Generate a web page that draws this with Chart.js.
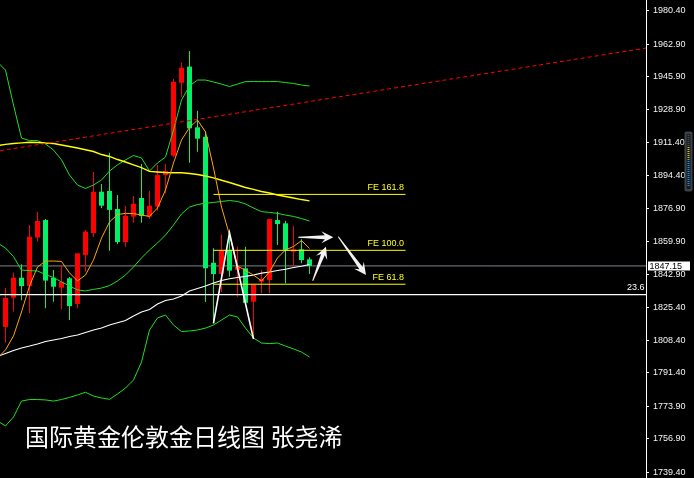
<!DOCTYPE html>
<html>
<head>
<meta charset="utf-8">
<script src="https://cdn.jsdelivr.net/npm/chart.js@4/dist/chart.umd.min.js"></script>
<style>
  html, body { margin: 0; padding: 0; background: #000; overflow: hidden; }
  canvas { display: block; }
</style>
</head>
<body>
<canvas id="c" width="694" height="478" style="width:694px;height:478px"></canvas>
<script>
// Price axis labels (right side)
const priceTicks = [1980.40, 1962.90, 1945.90, 1928.90, 1911.40, 1894.40, 1876.90,
  1859.90, 1842.90, 1825.40, 1808.40, 1791.40, 1773.90, 1756.90, 1739.40];

// Daily candles, bar 0 .. bar 38
const candleOpen  = [1815.3, 1830.6, 1841.0, 1836.6, 1862.0, 1871.1, 1841.0, 1835.8, 1840.7, 1827.3,
  1852.9, 1864.3, 1885.9, 1886.3, 1876.9, 1859.6, 1872.9, 1882.6, 1872.9, 1878.1,
  1894.6, 1904.7, 1942.8, 1951.2, 1919.5, 1914.6, 1848.8, 1842.9, 1855.5, 1845.0,
  1845.9, 1828.5, 1838.9, 1839.8, 1871.1, 1869.4, 1854.6, 1855.8, 1850.6];
const candleHigh  = [1835.6, 1843.7, 1848.0, 1868.5, 1875.4, 1871.6, 1845.0, 1847.6, 1841.4, 1853.9,
  1865.9, 1896.2, 1889.9, 1906.3, 1884.2, 1878.4, 1883.7, 1900.4, 1886.3, 1899.9,
  1900.4, 1944.7, 1953.3, 1959.4, 1928.2, 1917.6, 1856.4, 1863.6, 1864.4, 1857.2,
  1857.2, 1837.2, 1845.0, 1871.7, 1875.5, 1870.8, 1868.0, 1861.1, 1851.7];
const candleLow   = [1807.0, 1823.3, 1829.2, 1822.6, 1859.9, 1825.1, 1828.5, 1824.5, 1818.9, 1825.0,
  1844.1, 1862.3, 1877.2, 1855.1, 1858.6, 1857.2, 1869.7, 1869.7, 1871.7, 1876.0,
  1885.1, 1903.9, 1935.5, 1901.0, 1906.8, 1828.3, 1817.2, 1833.5, 1841.5, 1831.1,
  1827.8, 1809.0, 1832.9, 1832.9, 1858.1, 1838.1, 1847.1, 1848.5, 1842.9];
const candleClose = [1830.4, 1841.0, 1836.6, 1862.4, 1870.6, 1839.5, 1836.3, 1838.9, 1826.2, 1853.7,
  1865.0, 1885.8, 1878.6, 1876.4, 1859.6, 1873.4, 1879.6, 1873.2, 1878.6, 1894.6,
  1896.7, 1943.3, 1950.6, 1919.0, 1913.6, 1846.0, 1842.9, 1855.1, 1844.7, 1846.7,
  1827.9, 1837.2, 1840.3, 1871.6, 1869.0, 1855.5, 1855.8, 1850.2, 1847.15];

// Indicator series start one bar before the first visible candle (bar -1 .. bar 38)
const indicatorStart = -1;
const bollUpper  = [1953.6, 1949.4, 1931.2, 1913.9, 1912.6, 1912.6, 1910.8, 1907.7, 1902.5, 1894.6,
  1889.4, 1887.6, 1889.4, 1892.0, 1896.7, 1899.9, 1902.5, 1904.8, 1903.5, 1896.7,
  1900.9, 1904.0, 1918.1, 1933.8, 1941.1, 1944.2, 1944.2, 1943.2, 1942.1, 1940.8,
  1942.1, 1943.4, 1943.4, 1943.4, 1943.4, 1943.4, 1942.9, 1942.4, 1941.6, 1941.1];
const bollMiddle = [1859.1, 1856.5, 1852.0, 1845.0, 1844.7, 1844.5, 1842.7, 1841.1, 1838.8, 1836.7,
  1834.6, 1834.1, 1834.9, 1835.6, 1836.9, 1839.3, 1842.4, 1846.6, 1851.3, 1855.5,
  1859.1, 1863.3, 1868.5, 1874.3, 1877.9, 1879.2, 1879.9, 1880.3, 1880.8, 1881.3,
  1880.8, 1879.5, 1877.4, 1875.5, 1875.1, 1874.6, 1873.7, 1873.0, 1871.9, 1870.6];
const bollLower  = [1766.2, 1763.6, 1768.3, 1776.6, 1777.4, 1777.4, 1777.2, 1776.6, 1777.4, 1778.5,
  1779.8, 1781.2, 1779.2, 1778.2, 1777.5, 1780.3, 1783.4, 1787.6, 1797.0, 1813.7,
  1820.0, 1821.5, 1816.3, 1812.9, 1813.2, 1813.7, 1814.7, 1816.3, 1818.9, 1821.5,
  1820.5, 1814.7, 1809.5, 1806.9, 1806.6, 1806.9, 1805.3, 1803.8, 1802.2, 1799.6];
const maFast     = [1799.1, 1803.3, 1810.6, 1823.1, 1836.7, 1846.6, 1849.7, 1849.7, 1849.5, 1843.5,
  1839.3, 1842.4, 1850.3, 1861.7, 1870.1, 1874.0, 1874.6, 1874.5, 1873.7, 1873.0,
  1877.4, 1886.8, 1900.9, 1912.9, 1919.4, 1923.3, 1917.1, 1898.3, 1877.9, 1863.3,
  1847.1, 1844.8, 1842.4, 1839.3, 1844.0, 1851.3, 1855.5, 1857.3, 1860.4, 1856.3];
const maMedium   = [1910.0, 1910.6, 1911.1, 1911.4, 1911.7, 1911.6, 1911.3, 1911.1, 1910.3, 1909.5,
  1908.7, 1907.8, 1906.9, 1905.3, 1904.3, 1902.7, 1901.4, 1899.9, 1898.5, 1896.5,
  1896.2, 1895.9, 1895.8, 1895.8, 1895.4, 1894.9, 1894.1, 1893.1, 1891.9, 1890.7,
  1889.4, 1888.1, 1887.1, 1886.0, 1885.2, 1884.2, 1883.4, 1882.6, 1881.8, 1881.1];
const maLong     = [1799.9, 1801.4, 1803.0, 1804.3, 1805.3, 1806.4, 1807.7, 1808.5, 1809.3, 1810.3,
  1811.1, 1812.4, 1813.7, 1814.7, 1816.3, 1817.5, 1818.7, 1821.0, 1823.1, 1824.4,
  1827.3, 1829.1, 1829.9, 1831.5, 1834.1, 1835.4, 1836.7, 1838.2, 1839.5, 1840.5,
  1841.1, 1841.7, 1842.4, 1843.4, 1844.0, 1844.8, 1845.4, 1846.3, 1847.0, 1847.9];

// ZigZag swing points (bar, price)
const zigzagBars   = [26, 28, 31];
const zigzagPrices = [1817.2, 1864.4, 1809.0];

// Fibonacci expansion levels
const feNames  = ['FE 161.8', 'FE 100.0', 'FE 61.8'];
const feLevels = [1884.5, 1855.3, 1837.6];
const feFromBar = 26, feToBar = 50;

// Fibonacci retracement level
const fibName = '23.6';
const fibLevel = 1832.2;

// Dashed trend line (bar, price) at both window edges
const trendBars   = [-0.6875, 80.0625];
const trendPrices = [1907.3, 1960.9];

// Forecast arrows: [fromBar, fromPrice, toBar, toPrice]
const arrowPaths = [
  [36.6, 1862.1, 40.98, 1862.1],
  [38.4, 1839.4, 40.06, 1857.2],
  [41.6, 1862.4, 45.06, 1842.4]
];

const titleText = '国际黄金伦敦金日线图 张尧浠';

// Visible window
const X_MIN = -0.6875, X_MAX = 80.0625;
const Y_MIN = 1736.43, Y_MAX = 1985.99;

const lastClose = candleClose[candleClose.length - 1];
const bars = candleOpen.map((_, k) => k);
const isUp = bars.map(k => candleClose[k] >= candleOpen[k]);
const candleColors = isUp.map(u => u ? '#ff0000' : '#00f066');

const series = arr => arr.map((v, k) => ({ x: k + indicatorStart, y: v }));
const hline = (from, to, v) => [{ x: from, y: v }, { x: to, y: v }];

const lineDs = (data, color, width, order, extra) => Object.assign({
  type: 'line', data, borderColor: color, borderWidth: width, pointRadius: 0,
  pointHoverRadius: 0, fill: false, tension: 0, order
}, extra || {});

const datasets = [
  // bid line under the candles
  lineDs(hline(X_MIN, X_MAX, lastClose), '#7d8590', 1, 40),
  // wicks
  {
    type: 'bar', order: 30, grouped: false, inflateAmount: 0, barThickness: 1,
    data: bars.map(k => ({ x: k, y: [candleLow[k], candleHigh[k]] })),
    backgroundColor: candleColors, borderWidth: 0
  },
  // bodies
  {
    type: 'bar', order: 29, grouped: false, inflateAmount: 0, barThickness: 5, minBarLength: 1,
    data: bars.map(k => ({ x: k, y: [candleOpen[k], candleClose[k]] })),
    backgroundColor: candleColors, borderWidth: 0
  },
  lineDs(series(bollUpper), '#1fe01f', 1, 12),
  lineDs(series(bollMiddle), '#1fe01f', 1, 12),
  lineDs(series(bollLower), '#1fe01f', 1, 12),
  lineDs(series(maMedium), '#ffff00', 1.4, 10),
  lineDs(series(maLong), '#ffffff', 1.1, 10),
  lineDs(series(maFast), '#ffa500', 1, 9),
  lineDs(hline(X_MIN, X_MAX, fibLevel), '#ffffff', 1.3, 6),
  ...feLevels.map(v => lineDs(hline(feFromBar, feToBar, v), '#ffff00', 1, 6)),
  lineDs(trendBars.map((b, k) => ({ x: b, y: trendPrices[k] })), '#ff0000', 1, 6, { borderDash: [4, 3] }),
  lineDs(zigzagBars.map((b, k) => ({ x: b, y: zigzagPrices[k] })), '#ffffff', 1.6, 5)
];

function drawArrow(ctx, x0, y0, x1, y1) {
  const dx = x1 - x0, dy = y1 - y0, len = Math.hypot(dx, dy);
  const ux = dx / len, uy = dy / len, nx = -uy, ny = ux;
  const headLen = 12, headW = 6, neckW = 2, tailW = 0.5, sweep = 3.5;
  const bx = x1 - ux * headLen, by = y1 - uy * headLen;
  const cx = bx + ux * sweep, cy = by + uy * sweep;
  ctx.beginPath();
  ctx.moveTo(x0 + nx * tailW, y0 + ny * tailW);
  ctx.lineTo(cx + nx * neckW, cy + ny * neckW);
  ctx.lineTo(bx + nx * headW, by + ny * headW);
  ctx.lineTo(x1, y1);
  ctx.lineTo(bx - nx * headW, by - ny * headW);
  ctx.lineTo(cx - nx * neckW, cy - ny * neckW);
  ctx.lineTo(x0 - nx * tailW, y0 - ny * tailW);
  ctx.closePath();
  ctx.fill();
}

const overlay = {
  id: 'overlay',
  beforeDraw(chart) {
    const ctx = chart.ctx;
    ctx.save();
    ctx.fillStyle = '#000';
    ctx.fillRect(0, 0, chart.width, chart.height);
    ctx.restore();
  },
  afterDraw(chart) {
    const ctx = chart.ctx, xs = chart.scales.x, ys = chart.scales.y;
    ctx.save();
    // level captions
    ctx.font = '9px "Liberation Sans"';
    ctx.textAlign = 'right';
    ctx.textBaseline = 'bottom';
    ctx.fillStyle = '#ffff22';
    feLevels.forEach((v, k) => {
      ctx.fillText(feNames[k], xs.getPixelForValue(feToBar) - 1.5, ys.getPixelForValue(v) - 2);
    });
    ctx.fillStyle = '#ffffff';
    ctx.fillText(fibName, xs.right - 1.5, ys.getPixelForValue(fibLevel) - 2.5);

    // arrows
    ctx.fillStyle = '#f2f2f2';
    arrowPaths.forEach(a => drawArrow(ctx,
      xs.getPixelForValue(a[0]), ys.getPixelForValue(a[1]),
      xs.getPixelForValue(a[2]), ys.getPixelForValue(a[3])));

    // last price tag
    const yb = ys.getPixelForValue(lastClose);
    ctx.fillStyle = '#ffffff';
    ctx.fillRect(xs.right + 2, Math.round(yb) - 4.5, 42, 9);
    ctx.fillStyle = '#000000';
    ctx.textAlign = 'left';
    ctx.textBaseline = 'middle';
    ctx.fillText(lastClose.toFixed(2), xs.right + 3.5, Math.round(yb) + 0.5);

    // scroll handle at the right border
    ctx.fillStyle = '#3d4248';
    ctx.beginPath();
    ctx.roundRect(684.5, 131.5, 8, 60, 2);
    ctx.fill();
    ctx.fillStyle = '#181b1f';
    ctx.fillRect(686.5, 134, 4, 55);
    for (let yy = 135; yy < 187; yy += 2) {
      ctx.fillStyle = yy < 146 ? '#4a5058' : (yy < 159 ? '#d8c020' : (yy < 161 ? '#60c040' : '#1e8ee8'));
      ctx.fillRect(687.5, yy, 2, 1);
    }

    // title
    ctx.font = '24px "Noto Sans CJK SC"';
    ctx.textAlign = 'left';
    ctx.textBaseline = 'alphabetic';
    ctx.fillStyle = '#ffffff';
    ctx.fillText(titleText, 25, 446);
    ctx.restore();
  }
};

new Chart(document.getElementById('c'), {
  type: 'bar',
  data: { datasets },
  options: {
    responsive: false,
    animation: false,
    devicePixelRatio: 1,
    events: [],
    layout: { padding: 0 },
    plugins: { legend: { display: false }, tooltip: { enabled: false } },
    scales: {
      x: { type: 'linear', min: X_MIN, max: X_MAX, offset: false, display: false },
      y: {
        position: 'right',
        min: Y_MIN, max: Y_MAX,
        afterBuildTicks(scale) { scale.ticks = priceTicks.map(v => ({ value: v })); },
        afterFit(scale) { scale.width = 48; scale.paddingTop = 0; scale.paddingBottom = 0; },
        grid: { drawOnChartArea: false, drawTicks: true, tickLength: 3, color: '#ffffff', lineWidth: 1 },
        border: { display: true, color: '#ffffff', width: 1 },
        ticks: {
          autoSkip: false, padding: 4, color: '#f4f4f4',
          font: { family: 'Liberation Sans', size: 9 },
          callback: v => Number(v).toFixed(2)
        }
      }
    }
  },
  plugins: [overlay]
});
</script>
</body>
</html>
